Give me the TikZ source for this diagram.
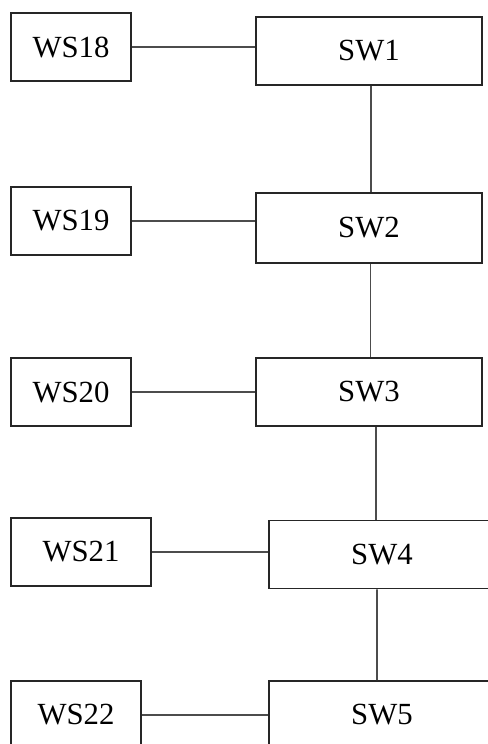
\documentclass[tikz,border=0pt]{standalone}
\usepackage{fontspec}
\setmainfont{Liberation Serif}

\tikzstyle{ws} = [rectangle, minimum width=2.4cm, minimum height=1.36cm, inner sep=0pt, text centered, draw=black!85, line width=1pt, font=\fontsize{17.5}{20}\selectfont]
\tikzstyle{sw} = [rectangle, minimum width=4.52cm, minimum height=1.36cm, inner sep=0pt, text centered, draw=black!85, line width=1pt, font=\fontsize{17.5}{20}\selectfont]
\tikzstyle{link} = [draw=black!70, line width=1pt]

\begin{document}
\begin{tikzpicture}[-,auto,node distance=5.96cm,semithick]
\clip (0,0) rectangle (9.76,-14.88);

\node[ws] (ws18) at (1.42,-0.94) {WS18};
\node[sw] (sw1) [right of=ws18, yshift=-0.08cm] {SW1};

\node[ws] (ws19) at (1.42,-4.42) {WS19};
\node[sw] (sw2) [right of=ws19, yshift=-0.14cm, minimum height=1.4cm] {SW2};

\node[ws] (ws20) at (1.42,-7.84) {WS20};
\node[sw] (sw3) [right of=ws20] {SW3};

\node[ws] (ws21) at (1.62,-11.04) [minimum width=2.8cm] {WS21};
\node[sw] (sw4) [right of=ws21, xshift=0.06cm, yshift=-0.05cm] {SW4};

\node[ws] (ws22) at (1.52,-14.3) [minimum width=2.6cm] {WS22};
\node[sw] (sw5) [right of=ws22, xshift=0.16cm] {SW5};

% workstations to switches
\draw[link] (ws18.east) -- (ws18.east -| sw1.west);
\draw[link] (ws19.east) -- (ws19.east -| sw2.west);
\draw[link] (ws20.east) -- (ws20.east -| sw3.west);
\draw[link] (ws21.east) -- (ws21.east -| sw4.west);
\draw[link] (ws22.east) -- (ws22.east -| sw5.west);

% switch chain
\draw[link] ([xshift=0.04cm]sw1.south) -- ([xshift=0.04cm]sw2.north);
\draw[link] ([xshift=0.03cm]sw2.south) -- ([xshift=0.03cm]sw3.north);
\draw[link] ([xshift=0.14cm]sw3.south) -- ([xshift=0.14cm]sw3.south |- sw4.north);
\draw[link] ([xshift=-0.1cm]sw4.south) -- ([xshift=-0.1cm]sw5.north);

\end{tikzpicture}
\end{document}
